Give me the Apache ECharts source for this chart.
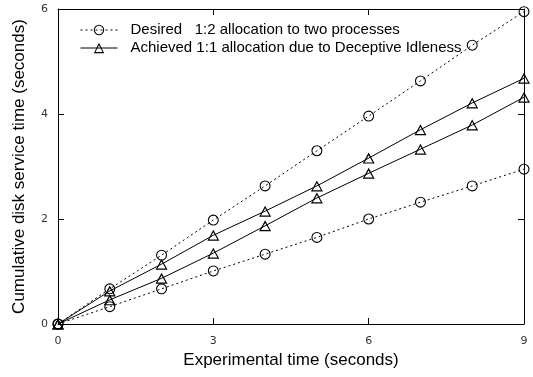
<!DOCTYPE html>
<html>
<head>
<meta charset="utf-8">
<script src="https://cdn.jsdelivr.net/npm/echarts@6/dist/echarts.min.js"></script>
<style>
  html, body { margin: 0; padding: 0; background: #fff; }
  #chart { width: 533px; height: 377px; }
</style>
</head>
<body>
<div id="chart"></div>
<script>
// experimental time (seconds)
const xValues = [0, 1, 2, 3, 4, 5, 6, 7, 8, 9]
// desired 1:2 allocation
const desiredHigh = [0, 0.67, 1.31, 1.98, 2.63, 3.30, 3.96, 4.63, 5.31, 5.95]
const desiredLow = [0, 0.33, 0.67, 1.01, 1.33, 1.65, 2.0, 2.32, 2.63, 2.95]
// achieved 1:1 allocation
const achievedHigh = [0, 0.63, 1.14, 1.69, 2.15, 2.63, 3.16, 3.70, 4.21, 4.68]
const achievedLow = [0, 0.46, 0.87, 1.35, 1.87, 2.40, 2.87, 3.33, 3.79, 4.32]

const desiredName = 'Desired   1:2 allocation to two processes'
const achievedName = 'Achieved 1:1 allocation due to Deceptive Idleness'

// open outlines (no fill) so the lines show through, like gnuplot points
const circlePath = 'path://M0,5A5,5 0 1,1 10,5A5,5 0 1,1 0,5ZM1,5A4,4 0 1,0 9,5A4,4 0 1,0 1,5Z'
const trianglePath = 'path://M5,0L10,9L0,9ZM5,2.1L1.6,8L8.4,8Z'

const pairs = arr => xValues.map((x, i) => [x, arr[i]])

const chart = echarts.init(document.getElementById('chart'))

const axisCommon = {
  axisLine: { show: true, onZero: false, lineStyle: { color: '#000', width: 1 } },
  axisTick: { show: true, inside: true, length: 6, lineStyle: { color: '#000' } },
  splitLine: { show: false },
}

function makeSeries(name, data, dotted) {
  return {
    name: name,
    type: 'line',
    data: pairs(data),
    symbol: dotted ? circlePath : trianglePath,
    symbolSize: dotted ? [11, 11] : [12, 11],
    showAllSymbol: true,
    lineStyle: { color: '#000', width: 1, type: dotted ? [2, 3] : 'solid' },
    itemStyle: { color: '#000', borderWidth: 0 },
    emphasis: { disabled: true },
    silent: true,
    z: 3
  }
}

const option = {
  animation: false,
  backgroundColor: '#fff',
  grid: { left: 58, right: 9, top: 9, bottom: 53, containLabel: false },
  legend: {
    data: [desiredName, achievedName],
    orient: 'vertical',
    left: 75,
    top: 16,
    itemWidth: 37,
    itemHeight: 13,
    itemGap: 0,
    lineStyle: { width: 1 },
    itemStyle: { borderWidth: 0 },
    textStyle: {
      fontFamily: 'Liberation Sans', fontSize: 15, color: '#000',
      lineHeight: 18, padding: [0, 0, 0, 8]
    },
    selectedMode: false
  },
  xAxis: [{
    type: 'value',
    min: 0, max: 9, interval: 3,
    position: 'bottom',
    name: 'Experimental time (seconds)',
    nameLocation: 'middle',
    nameGap: 27,
    nameTextStyle: { fontFamily: 'Liberation Sans', fontSize: 17, color: '#000' },
    axisLabel: { fontFamily: 'DejaVu Sans', fontSize: 11, color: '#333', margin: 12 },
    ...axisCommon
  }, {
    type: 'value',
    min: 0, max: 9, interval: 3,
    position: 'top',
    axisLabel: { show: false },
    ...axisCommon
  }],
  yAxis: [{
    type: 'value',
    min: 0, max: 6, interval: 2,
    position: 'left',
    name: 'Cumulative disk service time (seconds)',
    nameLocation: 'middle',
    nameGap: 30,
    nameTextStyle: { fontFamily: 'Liberation Sans', fontSize: 17, color: '#000' },
    axisLabel: { fontFamily: 'DejaVu Sans', fontSize: 11, color: '#333', margin: 10 },
    ...axisCommon
  }, {
    type: 'value',
    min: 0, max: 6, interval: 2,
    position: 'right',
    axisLabel: { show: false },
    ...axisCommon
  }],
  series: [
    makeSeries(desiredName, desiredHigh, true),
    makeSeries(achievedName, achievedHigh, false),
    makeSeries(achievedName, achievedLow, false),
    makeSeries(desiredName, desiredLow, true)
  ]
}

chart.setOption(option)
</script>
</body>
</html>
